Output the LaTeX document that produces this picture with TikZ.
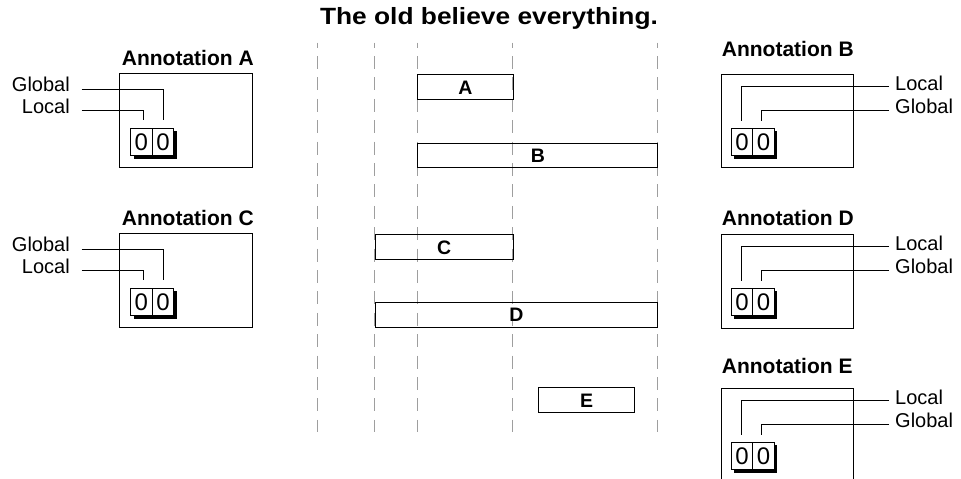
\documentclass[tikz,border=0pt]{standalone}
\usepackage{fontspec}
\setmainfont{Liberation Sans}
\usetikzlibrary{shadows}
\begin{document}
\begin{tikzpicture}[x=1pt,y=-1pt,
  tline/.style={draw=black!38, line width=1pt, dash pattern=on 13pt off 8.4pt, dash phase=8.1pt},
  bar/.style={draw, line width=1pt, inner sep=0pt, anchor=north west, font=\bfseries\fontsize{19.5}{21}\selectfont},
  abox/.style={draw, line width=1pt, inner sep=0pt, anchor=north west},
  cell/.style={draw, line width=1pt, fill=white, inner sep=0pt, anchor=north west,
     minimum width=21.5pt, minimum height=27.3pt, font=\fontsize{24}{26}\selectfont,
     drop shadow={shadow xshift=3pt, shadow yshift=-3pt, opacity=1, fill=black}},
  lbl/.style={inner sep=0pt, font=\fontsize{20}{22}\selectfont},
  atitle/.style={inner sep=0pt, anchor=base west, font=\bfseries\fontsize{21}{23}\selectfont},
  conn/.style={draw, line width=1pt}
]
\useasboundingbox (0,0) rectangle (961,479);
% title
\node[inner sep=0pt, anchor=base, font=\bfseries\fontsize{23.5}{25}\selectfont] (title) at (489,24) {\scalebox{1.12}[1]{The old believe everything.}};
% timelines
\foreach \x [count=\i] in {317.3,374.7,417.3,512.7,657.3}{
  \coordinate (t\i top) at (\x,42.7);
  \coordinate (t\i bot) at (\x,431.7);
  \path[tline] (t\i top) -- (t\i bot);
}
% bars
\node[bar, minimum width=95.4pt, minimum height=25pt] (barA) at (417.3,74.3) {A};
\node[bar, minimum width=240pt, minimum height=24.3pt] (barB) at (417.3,142.7) {B};
\node[bar, minimum width=138pt, minimum height=25pt] (barC) at (374.7,234.3) {C};
\node[bar, minimum width=282.6pt, minimum height=25pt] (barD) at (374.7,302) {D};
\node[bar, minimum width=96pt, minimum height=25pt] (barE) at (538,387.3) {E};

% left annotations
\foreach \n/\dy in {A/0,C/160}{
  \node[atitle] (tit\n) at (121.7,65+\dy) {Annotation \n};
  \node[abox, minimum width=132.4pt, minimum height=93.4pt] (box\n) at (119.3,73.3+\dy) {};
  \node[cell] (c\n1) at (130,127.7+\dy) {0};
  \node[cell] (c\n2) at (151.7,127.7+\dy) {0};
  \node[lbl, anchor=base east] (g\n) at (70,91.7+\dy) {Global};
  \node[lbl, anchor=base east] (l\n) at (70,113.3+\dy) {Local};
  \draw[conn] ([xshift=11.7pt,yshift=2.4pt]g\n.base east) -| ([xshift=1pt,yshift=7.7pt]c\n2.north);
  \draw[conn] ([xshift=11.7pt,yshift=2.6pt]l\n.base east) -| ([xshift=2.5pt,yshift=7.7pt]c\n1.north);
}
% right annotations
\foreach \n/\dy/\ty in {B/0/56.7,D/160/225,E/314/373.3}{
  \node[atitle] (tit\n) at (721.7,\ty) {Annotation \n};
  \node[lbl, anchor=base west] (l\n) at (895,90.7+\dy) {Local};
  \node[lbl, anchor=base west] (g\n) at (895,113.3+\dy) {Global};
}
\node[abox, minimum width=132.6pt, minimum height=92.4pt] (boxB) at (720.7,74.3) {};
\node[abox, minimum width=132.6pt, minimum height=93.4pt] (boxD) at (720.7,234.3) {};
\begin{scope}
\clip (0,0) rectangle (961,479);
\node[abox, minimum width=132.6pt, minimum height=100pt] (boxE) at (720.7,387.7) {};
\end{scope}
\foreach \n/\dy in {B/0,D/160,E/314}{
  \node[cell] (c\n1) at (730.7,127.7+\dy) {0};
  \node[cell] (c\n2) at (752.3,127.7+\dy) {0};
  \draw[conn] ([xshift=-5.8pt,yshift=4pt]l\n.base west) -| ([xshift=-0.8pt,yshift=6.7pt]c\n1.north);
  \draw[conn] ([xshift=-5.8pt,yshift=3.3pt]g\n.base west) -| ([xshift=-1.8pt,yshift=6.7pt]c\n2.north);
}
\end{tikzpicture}
\end{document}
